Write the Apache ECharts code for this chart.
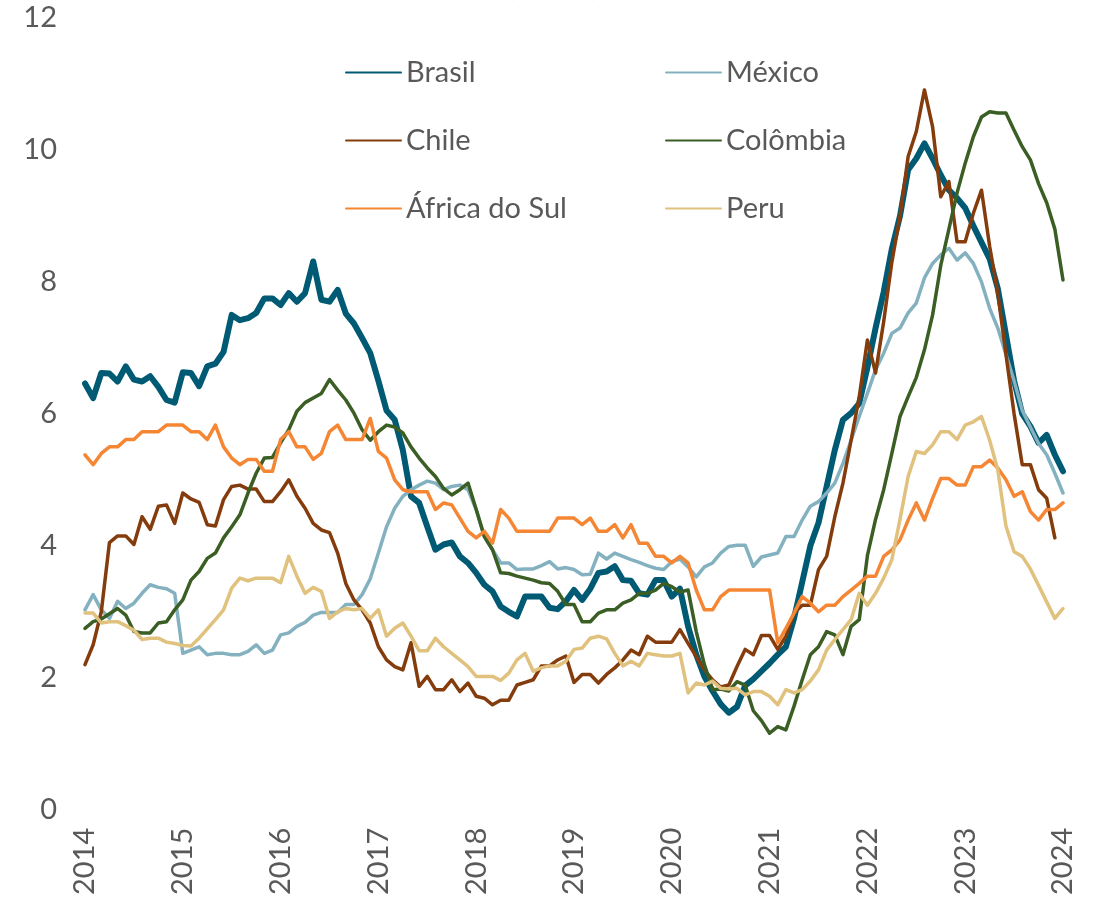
<!DOCTYPE html>
<html>
<head>
<meta charset="utf-8">
<title>Inflação</title>
<script src="https://cdn.jsdelivr.net/npm/echarts@6/dist/echarts.min.js"></script>
<style>
  html, body { margin: 0; padding: 0; background: #fff; }
  #grafico { width: 1097px; height: 898px; }
</style>
</head>
<body>
<div id="grafico"></div>
<script>
  // rótulos do eixo x (um por ano)
  var anos = ['2014', '2015', '2016', '2017', '2018', '2019', '2020', '2021', '2022', '2023', '2024'];

  // séries mensais, jan/2014 a jan/2024 (%)
  var brasil = [
    6.46, 6.24, 6.62, 6.61, 6.49, 6.72, 6.52, 6.49, 6.57, 6.41,
    6.21, 6.17, 6.63, 6.62, 6.42, 6.72, 6.76, 6.94, 7.50, 7.42,
    7.45, 7.53, 7.75, 7.75, 7.65, 7.83, 7.70, 7.83, 8.31, 7.73,
    7.70, 7.88, 7.52, 7.37, 7.15, 6.92, 6.50, 6.05, 5.91, 5.45,
    4.75, 4.65, 4.29, 3.94, 4.02, 4.05, 3.84, 3.74, 3.59, 3.41,
    3.31, 3.08, 3.00, 2.93, 3.23, 3.23, 3.23, 3.06, 3.04, 3.16,
    3.33, 3.18, 3.35, 3.59, 3.61, 3.69, 3.48, 3.47, 3.28, 3.26,
    3.48, 3.48, 3.23, 3.35, 2.78, 2.35, 2.02, 1.80, 1.60, 1.47,
    1.56, 1.88, 1.98, 2.10, 2.22, 2.35, 2.47, 2.90, 3.45, 4.00,
    4.35, 4.90, 5.45, 5.91, 6.01, 6.16, 6.70, 7.30, 7.85, 8.50,
    9.00, 9.70, 9.87, 10.10, 9.87, 9.62, 9.39, 9.27, 9.12, 8.85,
    8.60, 8.35, 7.90, 7.20, 6.50, 6.00, 5.81, 5.56, 5.68, 5.38,
    5.13
  ];
  var mexico = [
    3.03, 3.26, 3.03, 2.90, 3.16, 3.05, 3.13, 3.28, 3.41, 3.37,
    3.35, 3.28, 2.37, 2.42, 2.47, 2.35, 2.37, 2.37, 2.35, 2.35,
    2.40, 2.50, 2.37, 2.42, 2.65, 2.68, 2.78, 2.84, 2.95, 2.99,
    2.99, 2.99, 3.11, 3.11, 3.26, 3.50, 3.89, 4.29, 4.57, 4.75,
    4.85, 4.92, 4.98, 4.95, 4.85, 4.90, 4.92, 4.85, 4.55, 4.14,
    3.94, 3.74, 3.74, 3.64, 3.65, 3.65, 3.70, 3.76, 3.65, 3.67,
    3.64, 3.56, 3.57, 3.89, 3.80, 3.89, 3.84, 3.79, 3.75, 3.70,
    3.66, 3.64, 3.76, 3.80, 3.68, 3.53, 3.68, 3.74, 3.89, 3.99,
    4.01, 4.01, 3.69, 3.83, 3.86, 3.89, 4.14, 4.14, 4.39, 4.60,
    4.67, 4.80, 4.95, 5.25, 5.60, 5.96, 6.31, 6.67, 6.92, 7.22,
    7.30, 7.53, 7.68, 8.06, 8.28, 8.41, 8.51, 8.33, 8.44, 8.28,
    8.00, 7.60, 7.30, 6.90, 6.50, 6.05, 5.80, 5.55, 5.38, 5.10,
    4.80
  ];
  var chile = [
    2.20, 2.50, 3.00, 4.05, 4.15, 4.15, 4.02, 4.44, 4.25, 4.60,
    4.62, 4.34, 4.80, 4.71, 4.66, 4.32, 4.30, 4.70, 4.90, 4.92,
    4.86, 4.86, 4.67, 4.67, 4.82, 5.00, 4.75, 4.57, 4.34, 4.24,
    4.20, 3.89, 3.43, 3.18, 3.03, 2.83, 2.47, 2.27, 2.17, 2.12,
    2.53, 1.87, 2.02, 1.82, 1.82, 1.97, 1.79, 1.92, 1.72, 1.69,
    1.59, 1.66, 1.66, 1.89, 1.93, 1.97, 2.18, 2.18, 2.27, 2.33,
    1.93, 2.05, 2.05, 1.92, 2.05, 2.15, 2.27, 2.42, 2.35, 2.63,
    2.54, 2.54, 2.54, 2.73, 2.52, 2.32, 2.12, 1.97, 1.86, 1.89,
    2.17, 2.43, 2.35, 2.64, 2.64, 2.43, 2.63, 2.98, 3.10, 3.10,
    3.64, 3.84, 4.44, 4.95, 5.60, 6.26, 7.12, 6.62, 7.40, 8.30,
    9.00, 9.90, 10.28, 10.91, 10.35, 9.29, 9.52, 8.61, 8.61, 9.04,
    9.39, 8.54, 7.83, 6.90, 6.00, 5.23, 5.23, 4.85, 4.72, 4.12,
    null
  ];
  var colombia = [
    2.75, 2.85, 2.89, 2.97, 3.05, 2.95, 2.70, 2.68, 2.68, 2.83,
    2.85, 3.03, 3.18, 3.48, 3.61, 3.81, 3.89, 4.12, 4.29, 4.47,
    4.80, 5.10, 5.33, 5.34, 5.56, 5.76, 6.04, 6.17, 6.24, 6.31,
    6.52, 6.36, 6.21, 6.01, 5.76, 5.60, 5.73, 5.83, 5.80, 5.71,
    5.50, 5.33, 5.18, 5.05, 4.87, 4.77, 4.85, 4.95, 4.55, 4.14,
    3.94, 3.59, 3.58, 3.54, 3.51, 3.48, 3.44, 3.43, 3.31, 3.11,
    3.11, 2.85, 2.85, 2.98, 3.03, 3.03, 3.13, 3.18, 3.28, 3.28,
    3.33, 3.43, 3.38, 3.30, 3.33, 2.70, 2.20, 1.82, 1.83, 1.80,
    1.94, 1.89, 1.50, 1.35, 1.16, 1.26, 1.21, 1.57, 1.97, 2.35,
    2.47, 2.70, 2.65, 2.35, 2.78, 2.88, 3.85, 4.40, 4.85, 5.40,
    5.96, 6.26, 6.55, 6.97, 7.50, 8.25, 8.80, 9.35, 9.80, 10.20,
    10.50, 10.58, 10.56, 10.56, 10.30, 10.05, 9.85, 9.49, 9.20, 8.80,
    8.03
  ];
  var africaDoSul = [
    5.38, 5.23, 5.40, 5.50, 5.50, 5.61, 5.61, 5.73, 5.73, 5.73,
    5.83, 5.83, 5.83, 5.73, 5.73, 5.61, 5.83, 5.50, 5.33, 5.23,
    5.31, 5.31, 5.13, 5.13, 5.61, 5.73, 5.50, 5.50, 5.31, 5.40,
    5.73, 5.83, 5.61, 5.61, 5.61, 5.93, 5.43, 5.33, 5.00, 4.85,
    4.82, 4.82, 4.82, 4.55, 4.65, 4.62, 4.42, 4.22, 4.12, 4.22,
    4.04, 4.55, 4.42, 4.22, 4.22, 4.22, 4.22, 4.22, 4.42, 4.42,
    4.42, 4.32, 4.42, 4.22, 4.22, 4.32, 4.12, 4.32, 4.04, 4.04,
    3.84, 3.84, 3.74, 3.84, 3.74, 3.33, 3.03, 3.03, 3.23, 3.33,
    3.33, 3.33, 3.33, 3.33, 3.33, 2.53, 2.75, 2.98, 3.23, 3.13,
    3.00, 3.10, 3.10, 3.23, 3.33, 3.43, 3.54, 3.54, 3.84, 3.94,
    4.09, 4.39, 4.65, 4.39, 4.72, 5.02, 5.02, 4.92, 4.92, 5.20,
    5.20, 5.30, 5.18, 5.00, 4.75, 4.82, 4.52, 4.39, 4.55, 4.55,
    4.65
  ];
  var peru = [
    2.98, 2.98, 2.83, 2.85, 2.85, 2.79, 2.72, 2.58, 2.60, 2.60,
    2.54, 2.52, 2.49, 2.48, 2.60, 2.74, 2.88, 3.03, 3.36, 3.51,
    3.47, 3.51, 3.51, 3.51, 3.44, 3.84, 3.54, 3.28, 3.37, 3.31,
    2.90, 3.00, 3.05, 3.03, 3.05, 2.90, 3.03, 2.63, 2.75, 2.83,
    2.63, 2.41, 2.41, 2.60, 2.47, 2.37, 2.27, 2.17, 2.02, 2.02,
    2.02, 1.96, 2.07, 2.27, 2.37, 2.10, 2.15, 2.18, 2.18, 2.25,
    2.43, 2.45, 2.60, 2.63, 2.59, 2.37, 2.18, 2.25, 2.18, 2.37,
    2.35, 2.33, 2.33, 2.37, 1.77, 1.92, 1.89, 1.95, 1.84, 1.83,
    1.84, 1.74, 1.79, 1.79, 1.72, 1.59, 1.82, 1.77, 1.82, 1.95,
    2.12, 2.42, 2.58, 2.73, 2.88, 3.28, 3.10, 3.28, 3.51, 3.79,
    4.40, 5.05, 5.43, 5.40, 5.53, 5.73, 5.73, 5.61, 5.83, 5.88,
    5.96, 5.60, 5.15, 4.30, 3.91, 3.84, 3.65, 3.40, 3.15, 2.90,
    3.05
  ];

  // categorias mensais montadas a partir dos anos
  var meses = [];
  for (var a = 0; a < anos.length - 1; a++) {
    for (var m = 1; m <= 12; m++) {
      meses.push(anos[a] + '-' + (m < 10 ? '0' + m : m));
    }
  }
  meses.push(anos[anos.length - 1] + '-01');

  var fonte = 'Lato, "Liberation Sans", sans-serif';
  var cinza = '#595959';

  function linha(nome, dados, cor, largura) {
    return {
      name: nome,
      type: 'line',
      data: dados,
      symbol: 'none',
      smooth: false,
      lineStyle: { color: cor, width: largura, cap: 'round', join: 'round' },
      itemStyle: { color: cor },
      emphasis: { disabled: true }
    };
  }

  var legendaTexto = { color: cinza, fontSize: 29, fontFamily: fonte };

  function legenda(itens, x) {
    return {
      data: itens,
      orient: 'vertical',
      left: x,
      top: 58,
      padding: 0,
      itemWidth: 55,
      itemHeight: 14,
      itemGap: 39,
      textStyle: legendaTexto,
      itemStyle: { opacity: 0 },
      lineStyle: { cap: 'round' }
    };
  }

  var chart = echarts.init(document.getElementById('grafico'));
  chart.setOption({
    animation: false,
    backgroundColor: '#ffffff',
    textStyle: { fontFamily: fonte },
    title: {
      text: '(%, a/a)',
      left: 503,
      top: -32,
      textStyle: { color: cinza, fontSize: 28, fontWeight: 'normal', fontFamily: fonte }
    },
    grid: { left: 85, right: 34, top: 18, bottom: 88, containLabel: false },
    legend: [
      legenda(['Brasil', 'Chile', 'África do Sul'], 345),
      legenda(['México', 'Colômbia', 'Peru'], 665)
    ],
    xAxis: {
      type: 'category',
      data: meses,
      boundaryGap: false,
      axisLine: { show: false },
      axisTick: { show: false },
      splitLine: { show: false },
      axisLabel: {
        interval: function (i) { return i % 12 === 0; },
        formatter: function (v) { return v.slice(0, 4); },
        rotate: 90,
        margin: 18,
        padding: [10, 0, 0, 0],
        color: cinza,
        fontSize: 29,
        fontFamily: fonte
      }
    },
    yAxis: {
      type: 'value',
      min: 0,
      max: 12,
      interval: 2,
      axisLine: { show: false },
      axisTick: { show: false },
      splitLine: { show: false },
      axisLabel: { margin: 28, color: cinza, fontSize: 29, fontFamily: fonte }
    },
    series: [
      linha('Brasil', brasil, '#015A74', 6),
      linha('México', mexico, '#84B1C0', 3.5),
      linha('Chile', chile, '#843C0C', 3.5),
      linha('Colômbia', colombia, '#3B5E24', 3.5),
      linha('África do Sul', africaDoSul, '#F58634', 3.5),
      linha('Peru', peru, '#E0C17D', 3.5)
    ]
  });
</script>
</body>
</html>
